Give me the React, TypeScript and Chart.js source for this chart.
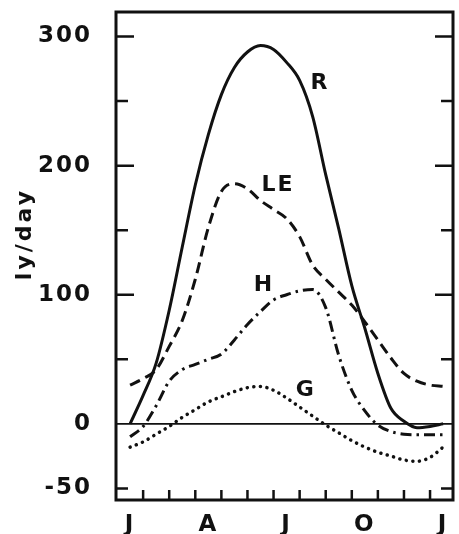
import React, { useEffect, useRef } from 'react';
import { Chart, registerables } from 'chart.js';

Chart.register(...registerables);

// x positions in months from January (0) to next January (12)
const months = [0, 0.5, 1, 1.5, 2, 2.5, 3, 3.5, 4, 4.5, 5, 5.5, 6, 6.5, 7, 7.5, 8, 8.5, 9, 9.5, 10, 10.5, 11, 11.5, 12];

// ly/day
const rValues = [0, 22, 47, 88, 137, 185, 224, 255, 276, 288, 293, 290, 280, 266, 238, 193, 151, 107, 74, 39, 12, 2, -3, -2, 0];
const leValues = [30, 35, 42, 60, 80, 112, 152, 180, 186, 182, 173, 166, 159, 145, 123, 112, 102, 92, 79, 65, 51, 39, 33, 30, 29];
const hValues = [-10, -2, 14, 33, 42, 46, 50, 54, 65, 77, 87, 96, 100, 103, 104, 90, 53, 26, 10, -1, -6, -8, -8.5, -8.5, -8.5];
const gValues = [-18, -14, -8, -2, 5, 11, 17, 21, 25, 28, 29, 26, 20, 13, 6, -1, -7, -13, -18, -22, -25, -28, -29, -26, -18];

const xTickMonths = [0, 3, 6, 9, 12];
const xTickLabels = ['J', 'A', 'J', 'O', 'J'];
const xMinorTicks = [0.5, 1.5, 2.5, 3.5, 4.5, 5.5, 6.5, 7.5, 8.5, 9.5, 10.5, 11.5];
const yTickValues = [-50, 0, 100, 200, 300];
const yMinorTicks = [-50, 50, 100, 150, 200, 250, 300];
const yAxisTitle = 'ly/day';

const seriesNames = ['R', 'LE', 'H', 'G'];
const seriesLabelX = [7.28, 5.67, 5.13, 6.74];
const seriesLabelY = [264, 185, 107, 26];

const INK = '#111';
const FONT = '"DejaVu Sans", sans-serif';

const framePlugin = {
  id: 'framePlugin',
  beforeDraw(chart: any) {
    chart.ctx.letterSpacing = '2px';
  },
  afterDraw(chart: any) {
    const { ctx, chartArea: a, scales } = chart;
    const x = scales.x;
    const y = scales.y;
    ctx.save();
    ctx.strokeStyle = INK;
    ctx.fillStyle = INK;
    ctx.lineWidth = 3;
    ctx.strokeRect(a.left, a.top, a.right - a.left, a.bottom - a.top);

    // zero line
    const y0 = y.getPixelForValue(0);
    ctx.lineWidth = 1.8;
    ctx.beginPath();
    ctx.moveTo(a.left, y0);
    ctx.lineTo(a.right, y0);
    ctx.stroke();

    // inward y ticks on both sides
    ctx.lineWidth = 2.5;
    yMinorTicks.forEach((v) => {
      const py = y.getPixelForValue(v);
      const len = v % 100 === 0 ? 18 : 12;
      ctx.beginPath();
      ctx.moveTo(a.left, py);
      ctx.lineTo(a.left + len, py);
      ctx.moveTo(a.right, py);
      ctx.lineTo(a.right - len, py);
      ctx.stroke();
    });

    // inward x ticks at month boundaries
    xMinorTicks.forEach((m) => {
      const px = x.getPixelForValue(m);
      ctx.beginPath();
      ctx.moveTo(px, a.bottom);
      ctx.lineTo(px, a.bottom - 10);
      ctx.stroke();
    });

    // series labels
    ctx.font = `bold 22px ${FONT}`;
    ctx.textAlign = 'center';
    ctx.textBaseline = 'middle';
    seriesNames.forEach((n, i) => {
      ctx.fillText(n, x.getPixelForValue(seriesLabelX[i]), y.getPixelForValue(seriesLabelY[i]));
    });

    // y axis title
    ctx.translate(y.left + 25, y.getPixelForValue(147));
    ctx.rotate(-Math.PI / 2);
    ctx.letterSpacing = '3px';
    ctx.font = `bold 22px ${FONT}`;
    ctx.fillText(yAxisTitle, 0, 0);
    ctx.restore();
    ctx.letterSpacing = '0px';
  },
};

function toPoints(values: number[]) {
  return values.map((v, i) => ({ x: months[i], y: v }));
}

export default function App() {
  const ref = useRef<HTMLCanvasElement | null>(null);

  useEffect(() => {
    if (!ref.current) return;
    const common = {
      borderColor: INK,
      backgroundColor: INK,
      borderWidth: 3,
      pointRadius: 0,
      fill: false,
      cubicInterpolationMode: 'monotone' as const,
    };
    const chart = new Chart(ref.current, {
      type: 'line',
      data: {
        datasets: [
          { ...common, label: 'R', data: toPoints(rValues) },
          { ...common, label: 'LE', data: toPoints(leValues), borderDash: [11, 6] },
          { ...common, label: 'H', data: toPoints(hValues), borderDash: [11, 5, 2.5, 5] },
          { ...common, label: 'G', data: toPoints(gValues), borderDash: [0.1, 6.5], borderCapStyle: 'round', borderWidth: 3.5 },
        ],
      },
      options: {
        animation: false,
        responsive: false,
        layout: { padding: { top: 12, right: 6, left: 0, bottom: 0 } },
        plugins: { legend: { display: false }, tooltip: { enabled: false } },
        scales: {
          x: {
            type: 'linear',
            min: -0.54,
            max: 12.38,
            grid: { display: false, drawTicks: false },
            border: { display: false },
            afterBuildTicks: (s: any) => {
              s.ticks = xTickMonths.map((v) => ({ value: v }));
            },
            afterFit: (s: any) => {
              s.height = 34;
              s.paddingLeft = 0;
              s.paddingRight = 0;
              s.paddingTop = 0;
              s.paddingBottom = 0;
            },
            ticks: {
              autoSkip: false,
              maxRotation: 0,
              padding: 11,
              color: INK,
              font: { family: FONT, size: 23, weight: 'bold' },
              callback: (v: any) => {
                const i = xTickMonths.indexOf(Number(v));
                return i >= 0 ? xTickLabels[i] : '';
              },
            },
          },
          y: {
            type: 'linear',
            min: -59,
            max: 319,
            grid: { display: false, drawTicks: false },
            border: { display: false },
            afterBuildTicks: (s: any) => {
              s.ticks = yTickValues.map((v) => ({ value: v }));
            },
            afterFit: (s: any) => {
              s.width = 116;
              s.paddingLeft = 0;
              s.paddingRight = 0;
              s.paddingTop = 0;
              s.paddingBottom = 0;
            },
            ticks: {
              autoSkip: false,
              padding: 24,
              color: INK,
              font: { family: FONT, size: 23, weight: 'bold' },
              callback: (v: any) => String(v),
            },
          },
        },
      },
      plugins: [framePlugin],
    });
    return () => chart.destroy();
  }, []);

  return (
    <div style={{ position: 'fixed', left: 0, top: 0, width: 459, height: 534, background: '#fff' }}>
      <canvas ref={ref} width={459} height={534} style={{ display: 'block' }} />
    </div>
  );
}
